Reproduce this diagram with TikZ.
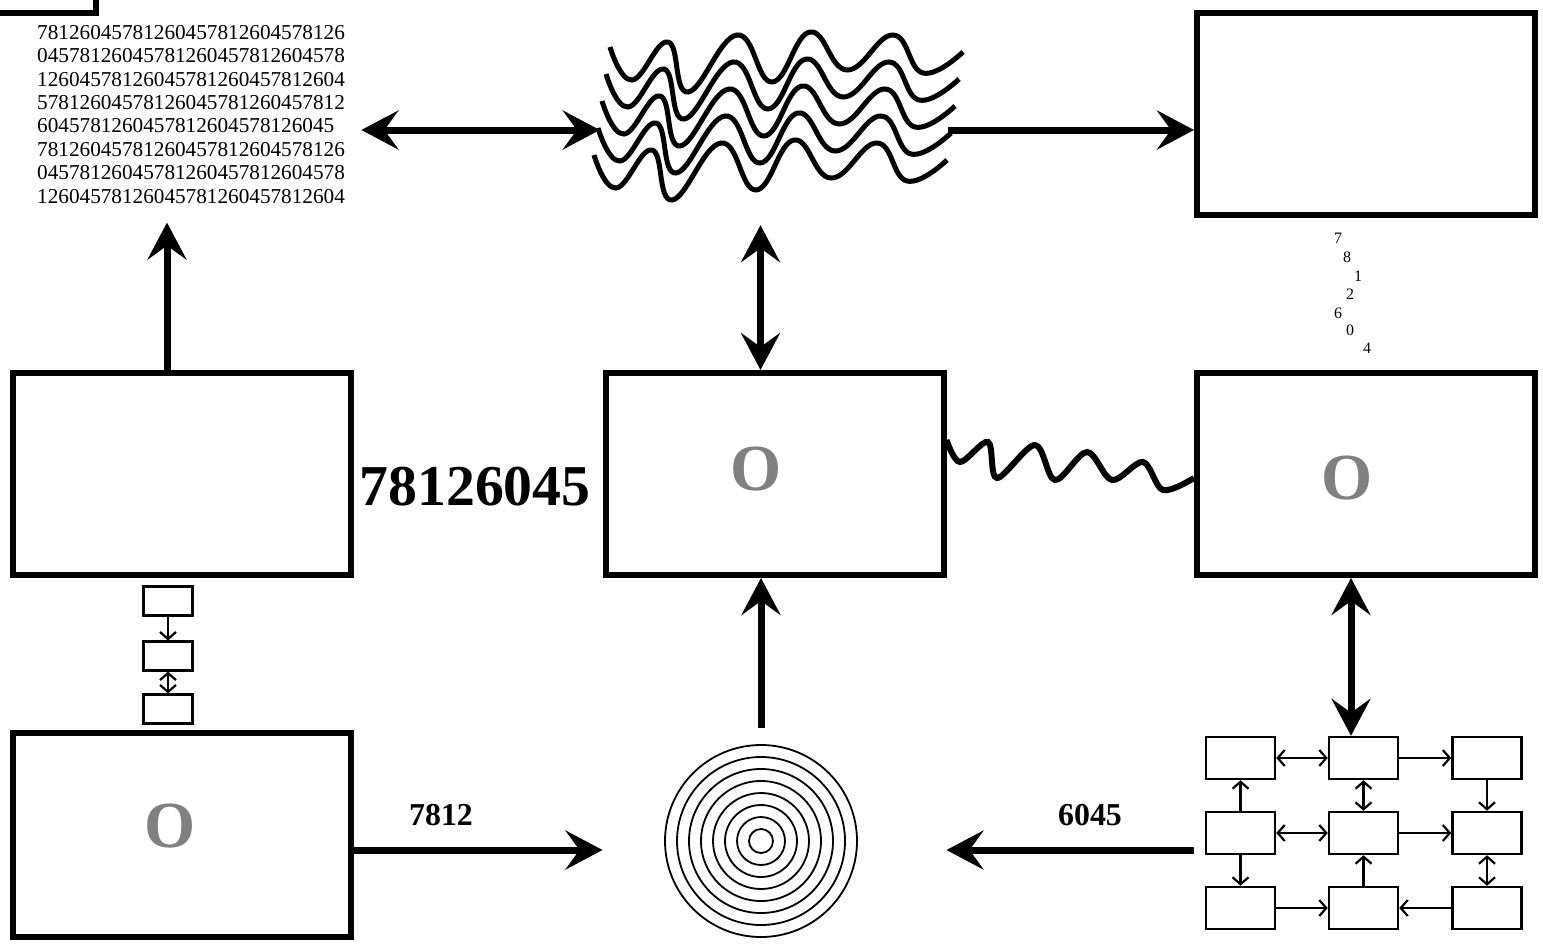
\documentclass[tikz,border=0pt]{standalone}
\usepackage{fontspec}
\setmainfont{Liberation Serif}
\usetikzlibrary{arrows.meta,calc}
\definecolor{ogray}{RGB}{128,128,128}
\begin{document}
\begin{tikzpicture}[x=1bp,y=-1bp,
  box/.style={draw, line width=6bp, minimum width=338bp, minimum height=202bp, inner sep=0pt},
  sbox/.style={draw, line width=2.2bp, minimum width=49bp, minimum height=29bp, inner sep=0pt},
  gbox/.style={draw, line width=2.5bp, minimum width=69bp, minimum height=42bp, inner sep=0pt},
  big/.style={line width=7bp, >={Stealth[length=37bp,width=39bp,inset=14bp]}},
  small/.style={line width=2.2bp, >={Straight Barb[length=7bp,width=16bp,line width=2.2bp]}},
  wavy/.style={line width=5bp},
  bigO/.style={font=\fontsize{66}{66}\selectfont\bfseries, text=ogray, inner sep=0pt},
  lab/.style={font=\fontsize{32}{32}\selectfont\bfseries, inner sep=0pt},
  dig/.style={font=\fontsize{16}{16}\selectfont, inner sep=0pt}]
\useasboundingbox (0,0) rectangle (1543,948);
\draw[line width=6bp] (-20,-20) rectangle (96,12.5);

\node[anchor=north west, inner xsep=12bp, inner ysep=19bp, text width=312bp, align=left,
  font=\fontsize{21.3}{23.5}\selectfont] (txt) at (25,6)
  {78126045781260457812604578126\\
   04578126045781260457812604578\\
   12604578126045781260457812604\\
   57812604578126045781260457812\\
   6045781260457812604578126045\\
   78126045781260457812604578126\\
   04578126045781260457812604578\\
   12604578126045781260457812604};

\node[box] (tr) at (1366,114) {};
\node[box] (lb) at (182,474) {};
\node[box] (mid) at (774.5,474) {};
\node[box] (rb) at (1366,474) {};
\node[box, minimum height=204bp] (bl) at (182,835) {};

\node[bigO] (o1) at (756,469) {O};
\node[bigO] (o2) at (1347,478) {O};
\node[bigO] (o3) at (170,826) {O};

\node[font=\fontsize{58}{58}\selectfont\bfseries, inner sep=0pt] (bignum) at (475,487) {78126045};

\node[minimum width=348bp, minimum height=190bp, inner sep=0pt] (wave) at (774,130) {};
\foreach \k in {0,...,4} {
  \draw[wavy, shift={(-4*\k,27*\k)}] plot[smooth, tension=0.75] coordinates
   {(610,47) (632,80) (668,42) (688,92) (737,35) (772,82) (810,32) (847,70) (893,35) (923,73) (963,52)};
}

\node[dig] (d1) at (1338,238) {7};
\node[dig] (d2) at (1347,257) {8};
\node[dig] (d3) at (1358,276) {1};
\node[dig] (d4) at (1350,294) {2};
\node[dig] (d5) at (1338,313) {6};
\node[dig] (d6) at (1350,330) {0};
\node[dig] (d7) at (1367,348) {4};

\node[sbox] (c1) at (168,601) {};
\node[sbox] (c2) at (168,656) {};
\node[sbox] (c3) at (168,709) {};
\draw[small,->] (c1) -- (c2);
\draw[small,<->] (c2) -- (c3);

\foreach \r in {12,24,...,96} \draw[line width=1.8bp] (761,841) circle[radius=\r bp];
\node[circle, minimum size=226bp, inner sep=0pt] (circ) at (761,841) {};

\node[gbox] (g11) at (1240.5,758) {};
\node[gbox] (g12) at (1363.5,758) {};
\node[gbox] (g13) at (1487,758) {};
\node[gbox] (g21) at (1240.5,833) {};
\node[gbox] (g22) at (1363.5,833) {};
\node[gbox] (g23) at (1487,833) {};
\node[gbox] (g31) at (1240.5,908) {};
\node[gbox] (g32) at (1363.5,908) {};
\node[gbox] (g33) at (1487,908) {};

\draw[small,<->] (g11) -- (g12);
\draw[small,->] (g12) -- (g13);
\draw[small,->] (g21) -- (g11);
\draw[small,<->] (g12) -- (g22);
\draw[small,->] (g13) -- (g23);
\draw[small,<->] (g21) -- (g22);
\draw[small,->] (g22) -- (g23);
\draw[small,->] (g21) -- (g31);
\draw[small,->] (g32) -- (g22);
\draw[small,<->] (g23) -- (g33);
\draw[small,->] (g31) -- (g32);
\draw[small,->] (g33) -- (g32);

\draw[big,<->] (txt.east |- wave.west) -- (wave.west);
\draw[big,->] (wave.east) -- (wave.east -| tr.west);
\coordinate (lt) at ($(lb.north)+(-15,0)$);
\draw[big,->] (lt) -- (lt |- txt.south);
\coordinate (mt) at ($(mid.north)+(-14,0)$);
\draw[big,<->] (mt) -- (mt |- wave.south);
\draw[big,->] (circ.north) -- (circ.north |- mid.south);
\coordinate (rt) at ($(rb.south)+(-15,0)$);
\draw[big,<->] (rt) -- (rt |- g12.north);
\coordinate (ar) at ($(bl.east)+(0,15)$);
\draw[big,->] (ar) -- (ar -| mid.west);
\draw[big,->] (ar -| rb.west) -- (ar -| mid.east);
\node[lab] (l1) at (441,815) {7812};
\node[lab] (l2) at (1090,815) {6045};

\coordinate (wa) at ($(mid.east)+(0,-34)$);
\coordinate (wb) at ($(rb.west)+(0,4)$);
\draw[line width=6bp] plot[smooth, tension=0.55] coordinates
  {(wa) (960,462) (988,442) (997,478) (1035,445) (1055,480) (1087,452) (1112,480) (1143,462) (1163,490) (wb)};
\end{tikzpicture}
\end{document}
